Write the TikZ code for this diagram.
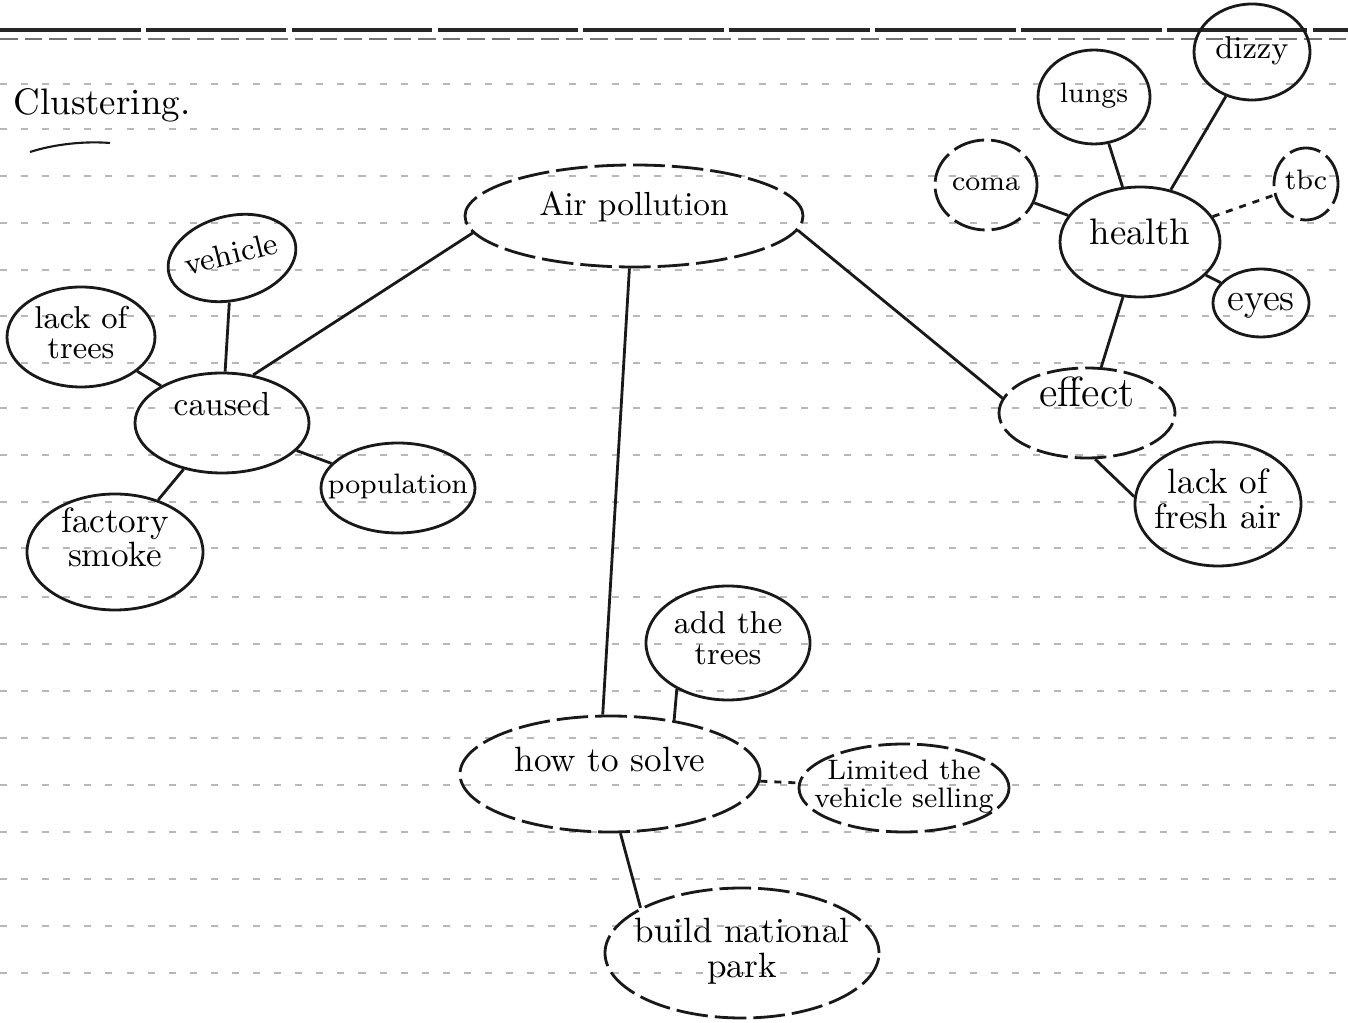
\documentclass[tikz,border=0pt]{standalone}
\usepackage{tikz}
\usetikzlibrary{shapes.geometric}
\renewcommand{\arraystretch}{0.8}
% word(s) set inside a bubble, not changing its size
\newcommand{\cword}[2][0pt]{\makebox[0pt]{\raisebox{\dimexpr#1-0.25em\relax}[0pt][0pt]{\begin{tabular}{@{}c@{}}#2\end{tabular}}}}
\tikzset{
  cbub/.style={ellipse, draw=black!90, line width=0.8pt, inner sep=0pt,
               font=\fontsize{10}{12}\selectfont},
  cdash/.style={dash pattern=on 9pt off 2pt},
  clink/.style={draw=black!90, line width=0.8pt},
  cdot/.style={clink, dash pattern=on 2pt off 2pt},
  crule/.style={black!28, line width=0.4pt, dash pattern=on 2pt off 4pt},
  cedge/.style={black!85, line width=1pt, dash pattern=on 40pt off 1.5pt},
  ctitle/.style={font=\fontsize{10.5}{12}\selectfont, inner sep=0pt},
}

\begin{document}
\begin{tikzpicture}
  \useasboundingbox (0,0) rectangle (13.48,-10.23);

  % paper lines
  \draw[cedge] (0,-0.30) -- (13.48,-0.30);
  \draw[crule, black!55, dash pattern=on 5pt off 2pt] (0,-0.39) -- (13.48,-0.39);
  \foreach \y in {0.84,1.29,1.76,2.23,2.70,3.16,3.63,4.08,4.55,5.02,5.48,
                  5.97,6.44,6.91,7.38,7.85,8.32,8.79,9.26,9.73}
    \draw[crule] (0,-\y) -- (13.48,-\y);

  % title
  \node[ctitle] (title) at (1.02,-1.05) {Clustering.};
  \draw[clink, line width=0.6pt] (0.30,-1.52) .. controls (0.55,-1.44) and (0.85,-1.41) .. (1.10,-1.43);

  % centre
  \node[cbub, cdash, minimum width=3.38cm, minimum height=1.02cm,
        font=\fontsize{9.5}{11}\selectfont] (air) at (6.34,-2.16) {\cword[0.8mm]{Air pollution}};

  % causes
  \node[cbub, minimum width=1.74cm, minimum height=1.0cm,
        font=\fontsize{9.5}{11}\selectfont] (caused) at (2.22,-4.23) {\cword[1.5mm]{caused}};
  \node[cbub, minimum width=1.30cm, minimum height=0.84cm, rotate=14,
        font=\fontsize{9}{11}\selectfont] (vehicle) at (2.32,-2.58) {\cword{vehicle}};
  \node[cbub, minimum width=1.48cm, minimum height=1.0cm,
        font=\fontsize{9}{11}\selectfont] (lacktrees) at (0.81,-3.37) {\cword{lack of\\trees}};
  \node[cbub, minimum width=1.54cm, minimum height=0.90cm,
        font=\fontsize{8}{10}\selectfont] (population) at (3.98,-4.88) {\cword{population}};
  \node[cbub, minimum width=1.76cm, minimum height=1.16cm] (factory) at (1.15,-5.52) {\cword[1mm]{factory\\smoke}};

  % effects
  \node[cbub, cdash, minimum width=1.76cm, minimum height=0.90cm,
        font=\fontsize{12}{14}\selectfont] (effect) at (10.87,-4.13) {\cword[1.5mm]{effect}};
  \node[cbub, minimum width=1.66cm, minimum height=1.24cm] (freshair) at (12.18,-5.04) {\cword{lack of\\fresh air}};
  \node[cbub, minimum width=1.60cm, minimum height=1.10cm,
        font=\fontsize{10.5}{12}\selectfont] (health) at (11.40,-2.42) {\cword[0.5mm]{health}};
  \node[cbub, cdash, minimum width=1.02cm, minimum height=0.90cm,
        font=\fontsize{8}{10}\selectfont] (coma) at (9.86,-1.85) {\cword{coma}};
  \node[cbub, minimum width=1.12cm, minimum height=0.94cm,
        font=\fontsize{8}{10}\selectfont] (lungs) at (10.94,-0.97) {\cword{lungs}};
  \node[cbub, minimum width=1.16cm, minimum height=0.96cm,
        font=\fontsize{9}{11}\selectfont] (dizzy) at (12.52,-0.52) {\cword{dizzy}};
  \node[cbub, cdash, minimum width=0.64cm, minimum height=0.72cm,
        font=\fontsize{8}{10}\selectfont] (tbc) at (13.06,-1.84) {\cword{tbc}};
  \node[cbub, minimum width=0.96cm, minimum height=0.68cm,
        font=\fontsize{11}{13}\selectfont] (eyes) at (12.61,-3.03) {\cword{eyes}};

  % solutions
  \node[cbub, cdash, minimum width=3.00cm, minimum height=1.16cm] (solve) at (6.10,-7.74) {\cword[1mm]{how to solve}};
  \node[cbub, minimum width=1.64cm, minimum height=1.14cm,
        font=\fontsize{9}{11}\selectfont] (addtrees) at (7.28,-6.43) {\cword{add the\\trees}};
  \node[cbub, cdash, minimum width=2.10cm, minimum height=0.88cm,
        font=\fontsize{8}{10}\selectfont] (limited) at (9.04,-7.88) {\cword{Limited the\\vehicle selling}};
  \node[cbub, cdash, minimum width=2.74cm, minimum height=1.30cm] (park) at (7.42,-9.53) {\cword{build national\\park}};

  % links
  \draw[clink] (air.186) -- (caused.57);
  \draw[clink] (air.265) -- (solve.97);
  \draw[clink] (air.-5) -- (effect.170);
  \draw[clink] (caused) -- (vehicle);
  \draw[clink] (caused) -- (lacktrees);
  \draw[clink] (caused) -- (population);
  \draw[clink] (caused) -- (factory);
  \draw[clink] (health) -- (effect);
  \draw[clink] (effect.-80) -- (freshair.175);
  \draw[clink] (health) -- (coma);
  \draw[clink] (health) -- (lungs);
  \draw[clink] (health) -- (dizzy);
  \draw[cdot] (health) -- (tbc);
  \draw[clink] (health) -- (eyes);
  \draw[clink] (addtrees.222) -- (solve.40);
  \draw[cdot] (solve) -- (limited);
  \draw[clink] (solve.-80) -- (park.156);

\end{tikzpicture}
\end{document}
